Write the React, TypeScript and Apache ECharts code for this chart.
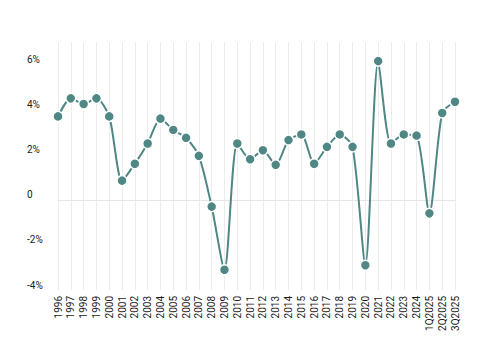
import React, { useEffect, useRef } from "react";
import * as echarts from "echarts";

const categories = [
  "1996", "1997", "1998", "1999", "2000", "2001", "2002", "2003", "2004", "2005",
  "2006", "2007", "2008", "2009", "2010", "2011", "2012", "2013", "2014", "2015",
  "2016", "2017", "2018", "2019", "2020", "2021", "2022", "2023", "2024",
  "1Q2025", "2Q2025", "3Q2025",
];

const growth = [
  3.7, 4.5, 4.25, 4.5, 3.7, 0.85, 1.6, 2.5, 3.6, 3.1,
  2.75, 1.95, -0.3, -3.1, 2.5, 1.8, 2.2, 1.55, 2.65, 2.9,
  1.6, 2.35, 2.9, 2.35, -2.9, 6.15, 2.5, 2.9, 2.85,
  -0.6, 3.85, 4.35,
];

const yMin = -4;
const yMax = 7;
const yInterval = 2;

const LINE = "#4f8784";

export default function App() {
  const ref = useRef<HTMLDivElement>(null);
  useEffect(() => {
    if (!ref.current) return;
    const chart = echarts.init(ref.current, null, { renderer: "svg" });
    chart.setOption({
      animation: false,
      backgroundColor: "#ffffff",
      textStyle: { fontFamily: "Roboto, 'Noto Sans', sans-serif" },
      grid: { left: 58, right: 45, top: 42, bottom: 72, containLabel: false },
      xAxis: {
        type: "category",
        data: categories,
        boundaryGap: false,
        axisLine: { show: false },
        axisTick: { show: false },
        splitLine: { show: true, lineStyle: { color: "#ececec", width: 1 } },
        axisLabel: {
          rotate: 90,
          interval: 0,
          margin: 6,
          fontSize: 10,
          color: "#1a1a1a",
        },
      },
      yAxis: {
        type: "value",
        min: yMin,
        max: yMax,
        interval: yInterval,
        axisLine: { show: false },
        axisTick: { show: false },
        splitLine: { show: false },
        axisLabel: {
          align: "left",
          verticalAlign: "bottom",
          margin: 31,
          fontSize: 10,
          color: "#1a1a1a",
          showMaxLabel: false,
          formatter: (v: number) => (v > 6.5 ? "" : v === 0 ? "0" : `${v}%`),
        },
      },
      series: [
        {
          type: "line",
          data: growth,
          smooth: 0.25,
          symbol: "circle",
          symbolSize: 10,
          lineStyle: { color: LINE, width: 2 },
          itemStyle: { color: LINE, borderColor: "#ffffff", borderWidth: 1.5 },
          markLine: {
            silent: true,
            symbol: ["none", "none"],
            label: { show: false },
            lineStyle: { color: "#e6e6e6", type: "solid", width: 1 },
            data: [{ yAxis: 0 }],
            z: 1,
          },
          z: 3,
        },
      ],
    });
    return () => chart.dispose();
  }, []);
  return (
    <div
      ref={ref}
      style={{ position: "fixed", left: 0, top: 0, width: 500, height: 362, background: "#fff" }}
    />
  );
}
